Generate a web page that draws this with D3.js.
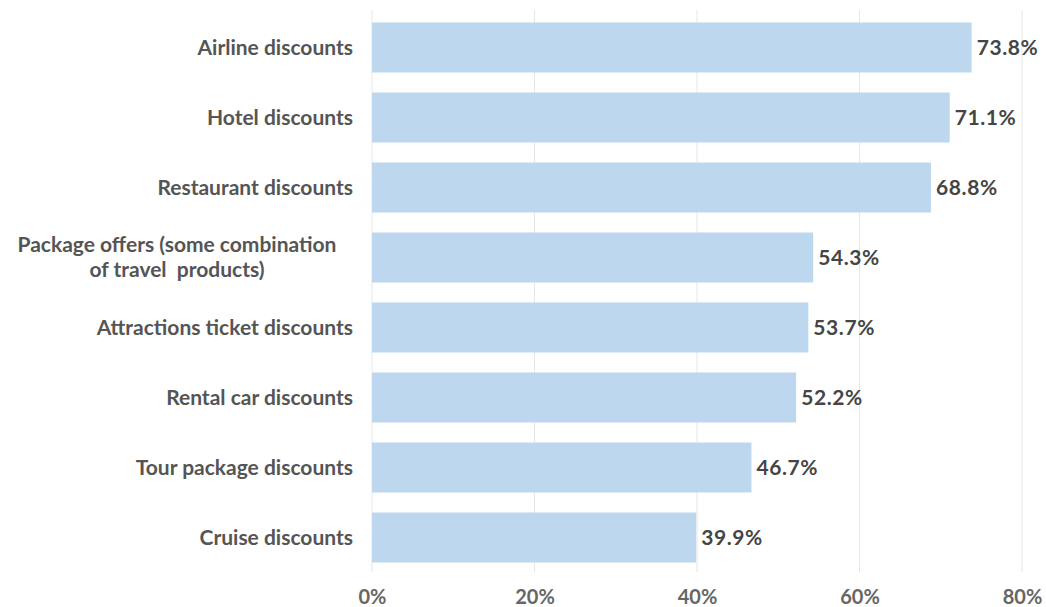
<!DOCTYPE html>
<html>
<head>
<meta charset="utf-8">
<script src="https://cdn.jsdelivr.net/npm/d3@7"></script>
<style>
  html, body { margin: 0; padding: 0; background: #ffffff; }
  svg { display: block; }
  text { font-family: Lato, "Open Sans", sans-serif; font-weight: 700; }
</style>
</head>
<body>
<svg id="chart" width="1046" height="607"></svg>
<script>
// Share of travellers interested in each kind of deal
const categories = [
  ["Airline discounts"],
  ["Hotel discounts"],
  ["Restaurant discounts"],
  ["Package offers (some combination", "of travel  products)"],
  ["Attractions ticket discounts"],
  ["Rental car discounts"],
  ["Tour package discounts"],
  ["Cruise discounts"]
];
const values = [73.8, 71.1, 68.8, 54.3, 53.7, 52.2, 46.7, 39.9];
const tickValues = [0, 20, 40, 60, 80];
const tickLabels = ["0%", "20%", "40%", "60%", "80%"];

const svg = d3.select("#chart");
const plotLeft = 372, plotRight = 1022, plotTop = 12.5, plotBottom = 572.5;
const labelSize = 21, lineHeight = 25;

const x = d3.scaleLinear().domain([0, 80]).range([plotLeft, plotRight]);
const y = d3.scaleBand()
  .domain(d3.range(categories.length))
  .range([plotTop, plotBottom])
  .paddingInner(0.286)
  .paddingOuter(0.143);

// vertical gridlines
svg.append("g")
  .selectAll("line")
  .data(tickValues)
  .join("line")
  .attr("x1", d => x(d)).attr("x2", d => x(d))
  .attr("y1", 10).attr("y2", 572)
  .attr("stroke", "#e6e6e6")
  .attr("stroke-width", 1);

// bars
svg.append("g")
  .selectAll("rect")
  .data(values)
  .join("rect")
  .attr("x", x(0))
  .attr("y", (d, i) => y(i))
  .attr("width", d => x(d) - x(0))
  .attr("height", y.bandwidth())
  .attr("fill", "#bdd7ee");

// value labels
svg.append("g")
  .selectAll("text")
  .data(values)
  .join("text")
  .attr("x", d => x(d) + 5)
  .attr("y", (d, i) => y(i) + y.bandwidth() / 2)
  .attr("dy", "0.35em")
  .attr("fill", "#454545")
  .attr("font-size", 21)
  .attr("letter-spacing", 0.6)
  .text(d => d.toFixed(1) + "%");

// category labels (multi-line labels are centred)
const labelX = d => d.length > 1 ? 177 : plotLeft - 19;
const cat = svg.append("g")
  .selectAll("text")
  .data(categories)
  .join("text")
  .attr("fill", "#555555")
  .attr("font-size", labelSize)
  .attr("text-anchor", d => d.length > 1 ? "middle" : "end")
  .attr("x", labelX)
  .attr("y", (d, i) => y(i) + y.bandwidth() / 2);

cat.each(function(lines) {
  const t = d3.select(this);
  const n = lines.length;
  lines.forEach((line, k) => {
    t.append("tspan")
      .attr("x", labelX(lines))
      .attr("dy", k === 0 ? (0.35 * labelSize - (n - 1) * lineHeight / 2) : lineHeight)
      .attr("xml:space", "preserve")
      .style("white-space", "pre")
      .text(line);
  });
});

// x axis tick labels
const axis = d3.axisBottom(x)
  .tickValues(tickValues)
  .tickFormat((d, i) => tickLabels[i])
  .tickSize(0)
  .tickPadding(0);

const ax = svg.append("g")
  .attr("transform", "translate(0,590)")
  .call(axis);
ax.select(".domain").remove();
ax.selectAll("text")
  .attr("fill", "#666666")
  .attr("font-size", 20)
  .attr("font-family", "Lato, 'Open Sans', sans-serif")
  .attr("font-weight", 700);
</script>
</body>
</html>
